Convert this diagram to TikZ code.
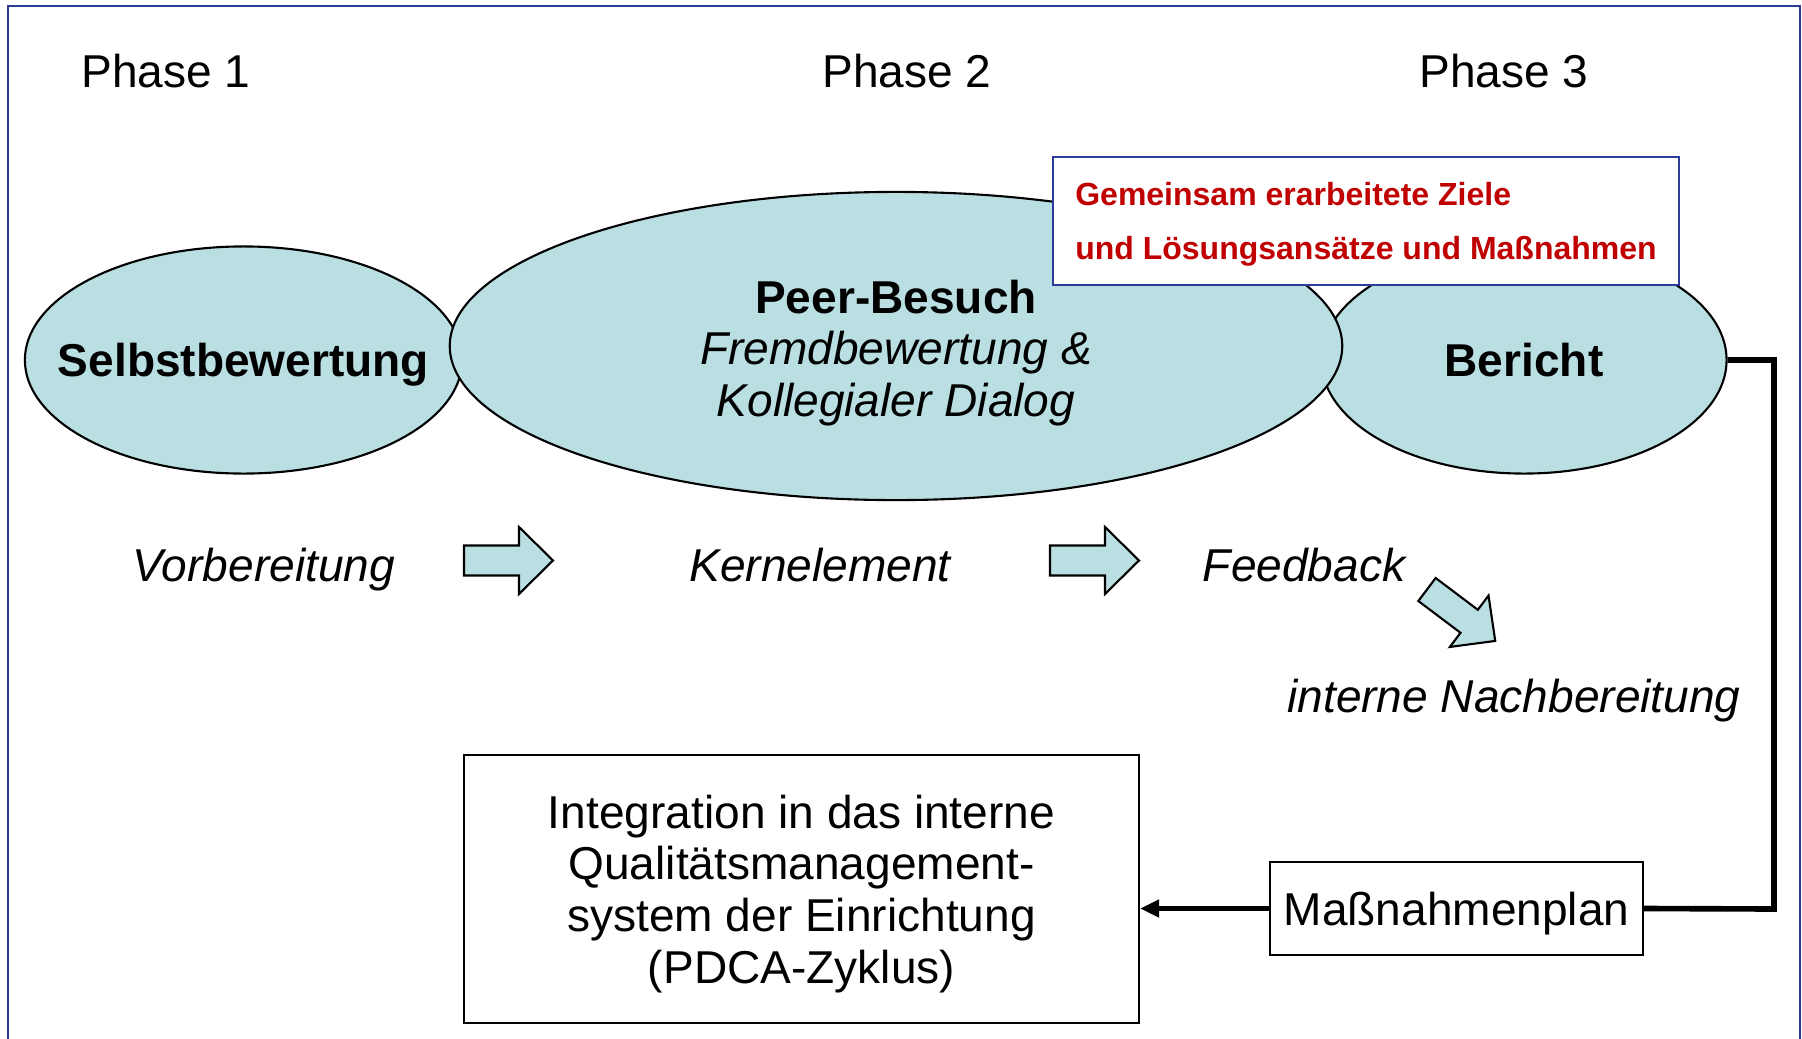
\documentclass[tikz,border=0pt]{standalone}
\usepackage{fontspec}
\setmainfont{Liberation Sans}
\usetikzlibrary{shapes,arrows.meta,positioning,calc}
\definecolor{blobfill}{RGB}{185,223,227}
\definecolor{framecol}{RGB}{45,60,150}
\definecolor{goalred}{RGB}{192,0,0}

\begin{document}
\begin{tikzpicture}[x=0.01cm,y=-0.01cm,
	main/.style={font=\fontsize{13.1}{14.6}\selectfont,text depth=0pt},
	phaselabel/.style={main},
	steplabel/.style={main,font=\fontsize{13.1}{14.6}\selectfont\itshape},
	blob/.style={ellipse,draw=black,line width=0.6pt,fill=blobfill,inner sep=0pt},
	planbox/.style={rectangle,draw=black,line width=0.5pt,fill=white,main,inner sep=0pt},
	goalbox/.style={rectangle,draw=framecol,line width=0.6pt,fill=white,inner sep=0pt,
		minimum width=6.26cm,minimum height=1.28cm,align=left,text=goalred,text depth=0pt,
		font=\fontsize{9.1}{15.4}\selectfont\bfseries},
	thickline/.style={line width=1.6pt},
	blockarrow/.pic={\draw[fill=blobfill,line width=0.6pt] (0,-15) -- (55,-15) -- (55,-33.5) -- (89,0)
		-- (55,33.5) -- (55,15) -- (0,15) -- cycle;}]
\useasboundingbox (0,0) rectangle (1802,1039);
\draw[framecol,line width=0.7pt] (8,1045) -- (8,6) -- (1800,6) -- (1800,1045);

\node[phaselabel] (ph1) at (166,71) {Phase 1};
\node[phaselabel] (ph2) at (907,71) {Phase 2};
\node[phaselabel] (ph3) at (1504,71) {Phase 3};

\node[blob,minimum width=4.37cm,minimum height=2.27cm,
	label={[main,font=\fontsize{13.1}{14.6}\selectfont\bfseries]center:Selbstbewertung}] (selbst) at (243.5,360) {};
\node[blob,minimum width=4.05cm,minimum height=2.27cm,
	label={[main,font=\fontsize{13.1}{14.6}\selectfont\bfseries]center:Bericht}] (bericht) at (1524,360) {};
\node[blob,minimum width=8.92cm,minimum height=3.08cm,
	label={[main,align=center,yshift=-0.02cm]center:{\textbf{Peer-Besuch}\\\textit{Fremdbewertung \&}\\\textit{Kollegialer Dialog}}}] (peer) at (896,346) {};

\node[goalbox] (ziele) at (1366,221) {Gemeinsam erarbeitete Ziele\\und Lösungsansätze und Maßnahmen};

\node[steplabel] (vorb) at (264,565) {Vorbereitung};
\node[steplabel] (kern) at (820,565) {Kernelement};
\node[steplabel] (feed) at (1304,565) {Feedback};
\node[steplabel] (nach) at (1514,696) {interne Nachbereitung};

\pic at (464,560.5) {blockarrow};
\pic at (1050,560.5) {blockarrow};
\pic[rotate=-37,scale=0.96] at (1427,589.5) {blockarrow};

\node[planbox,minimum width=6.75cm,minimum height=2.68cm,align=center,
	font=\fontsize{13.1}{14.7}\selectfont] (integ) at (801.5,889)
	{Integration in das interne\\Qualitätsmanagement-\\system der Einrichtung\\(PDCA-Zyklus)};
\node[planbox,minimum width=3.73cm,minimum height=0.93cm] (plan) at (1456.5,908.5) {Maßnahmenplan};

\coordinate (turn) at (1774,909);
\draw[thickline] (bericht.east) -| (turn) -- (plan.east);
\draw[thickline,-{Triangle[length=0.19cm,width=0.17cm]}] (plan.west) -- (plan.west -| integ.east);
\end{tikzpicture}
\end{document}
